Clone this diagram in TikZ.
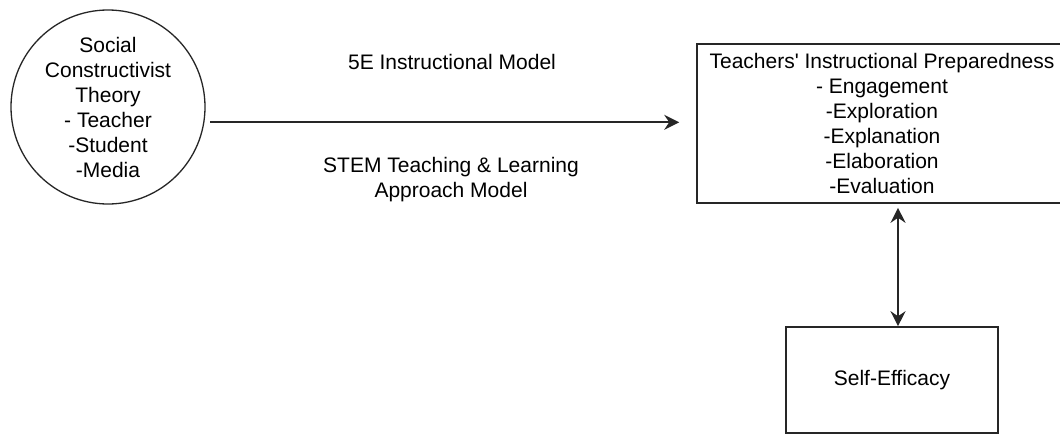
\documentclass[tikz,border=0pt]{standalone}
\usepackage{fontspec}
\setmainfont{Liberation Sans}[Ligatures=TeXOff]
\usetikzlibrary{arrows.meta}
\begin{document}
\begin{tikzpicture}[x=1pt,y=-1pt,
  every node/.style={font=\fontsize{21}{25}\selectfont, text=black, inner sep=0pt},
  shapeline/.style={draw=black!85, line width=1.6pt},
  lbl/.style={align=center},
  arr/.style={draw=black!85, line width=1.7pt, -{Stealth[length=15pt,width=15pt,inset=5pt]}},
  darr/.style={draw=black!85, line width=1.7pt, {Stealth[length=15pt,width=15pt,inset=5pt]}-{Stealth[length=15pt,width=15pt,inset=5pt]}}
]
\useasboundingbox (0,0) rectangle (1060,434);
\node[circle, shapeline, line width=1.3pt, minimum size=194pt, align=center] (circ) at (108,107)
  {Social\\Constructivist\\Theory\\- Teacher\\-Student\\-Media};
\node[rectangle, shapeline, minimum width=370pt, minimum height=159pt, align=center] (tip) at (882,123.5)
  {Teachers' Instructional Preparedness\\- Engagement\\-Exploration\\-Explanation\\-Elaboration\\-Evaluation};
\node[rectangle, shapeline, minimum width=212pt, minimum height=106pt] (self) at (892,380) {Self-Efficacy};
\node[lbl] (l1) at (452,62) {5E Instructional Model};
\node[lbl] (l2) at (451,180) {STEM Teaching \& Learning\\Approach Model};
\coordinate (vx) at (898,0);
\draw[arr, shorten <=6pt, shorten >=17pt] (circ.-9) -- (circ.-9 -| tip.west);
\draw[darr, shorten <=4pt] (tip.south -| vx) -- (self.north -| vx);
\end{tikzpicture}
\end{document}
